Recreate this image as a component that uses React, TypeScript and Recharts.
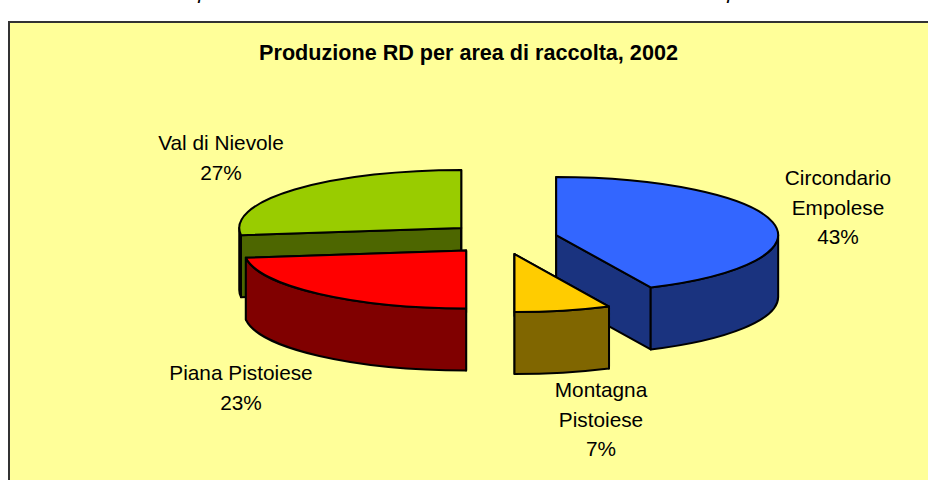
import { PieChart, Pie } from "recharts";

// Production share per collection area. Order puts the back slices first so they paint underneath.
const areas = ["Val di Nievole", "Circondario Empolese", "Montagna Pistoiese", "Piana Pistoiese"];
const shares = [27, 43, 7, 23];
const topColors = ["#99CC00", "#3366FF", "#FFCC00", "#FF0000"];
const sideColors = ["#4D6600", "#1A337F", "#806600", "#800000"];

const data = areas.map((name, i) => ({ name, value: shares[i], fill: topColors[i], side: sideColors[i] }));

// First slice starts so that Circondario begins at 12 o'clock
const START_ANGLE = 90 + (360 * shares[0]) / 100;

const RADIUS = 222;
const SQUASH = 58 / 222; // ellipse ratio of the tilted pie
const DEPTH = 62;
const EXPLODE_X = 55;
const EXPLODE_Y = 16;

const LABEL_POS: Record<string, { x: number; lines: string[]; y: number }> = {
  "Val di Nievole": { x: 221, y: 150, lines: ["Val di Nievole", "27%"] },
  "Circondario Empolese": { x: 838, y: 185, lines: ["Circondario", "Empolese", "43%"] },
  "Montagna Pistoiese": { x: 601, y: 397, lines: ["Montagna", "Pistoiese", "7%"] },
  "Piana Pistoiese": { x: 241, y: 380, lines: ["Piana Pistoiese", "23%"] },
};

const rad = (deg: number) => (deg * Math.PI) / 180;

function Slice3D(props: any) {
  const { startAngle, endAngle, midAngle, fill, payload } = props;
  const cx = props.cx + EXPLODE_X * Math.cos(rad(midAngle));
  const cy = props.cy - EXPLODE_Y * Math.sin(rad(midAngle));
  const ry = RADIUS * SQUASH;
  const pt = (a: number, dz = 0) =>
    `${cx + RADIUS * Math.cos(rad(a))} ${cy - ry * Math.sin(rad(a)) + dz}`;
  const large = (a: number, b: number) => (Math.abs(a - b) > 180 ? 1 : 0);

  const radial = (a: number) =>
    `M${cx} ${cy} L${pt(a)} L${pt(a, DEPTH)} L${cx} ${cy + DEPTH} Z`;

  // outer wall only shows on the front half of the ellipse
  const walls: string[] = [];
  [[-180, 0], [180, 360]].forEach(([lo, hi]) => {
    const a = Math.min(startAngle, hi);
    const b = Math.max(endAngle, lo);
    if (a > b) {
      walls.push(
        `M${pt(a)} A${RADIUS} ${ry} 0 ${large(a, b)} 1 ${pt(b)} L${pt(b, DEPTH)} A${RADIUS} ${ry} 0 ${large(a, b)} 0 ${pt(a, DEPTH)} Z`
      );
    }
  });

  const top = `M${cx} ${cy} L${pt(startAngle)} A${RADIUS} ${ry} 0 ${large(startAngle, endAngle)} 1 ${pt(endAngle)} Z`;
  const side = payload?.side ?? props.side;

  return (
    <g stroke="#000" strokeWidth={2} strokeLinejoin="round">
      <path d={radial(startAngle)} fill={side} />
      <path d={radial(endAngle)} fill={side} />
      {walls.map((d) => (
        <path key={d} d={d} fill={side} />
      ))}
      <path d={top} fill={fill} />
    </g>
  );
}

function renderLabel(props: any) {
  const pos = LABEL_POS[props.name ?? props.payload?.name];
  if (!pos) return null;
  return (
    <text x={pos.x} y={pos.y} textAnchor="middle" fontFamily="Liberation Sans" fontSize={20.8} fill="#000" stroke="none">
      {pos.lines.map((line, i) => (
        <tspan key={line} x={pos.x} dy={i === 0 ? 0 : 29.5}>
          {line}
        </tspan>
      ))}
    </text>
  );
}

export default function App() {
  return (
    <div style={{ position: "absolute", left: 0, top: 0, width: 928, height: 480, overflow: "hidden", background: "#fff" }}>
      <div
        style={{
          position: "absolute",
          left: 8,
          top: 21,
          width: 940,
          height: 480,
          background: "#FFFF99",
          border: "2px solid #333",
        }}
      />
      <div style={{ position: "absolute", left: 0, top: 0 }}>
        <PieChart width={928} height={480} margin={{ top: 0, right: 0, bottom: 0, left: 0 }}>
          <text x={204} y={-1} fontFamily="Liberation Sans" fontStyle="italic" fontSize={21} textAnchor="middle">p</text>
          <text x={733} y={-1} fontFamily="Liberation Sans" fontStyle="italic" fontSize={21} textAnchor="middle">p</text>
          <text x={468.5} y={60} textAnchor="middle" fontFamily="Liberation Sans" fontWeight="bold" fontSize={21.6} fill="#000">
            Produzione RD per area di raccolta, 2002
          </text>
          <Pie
            data={data}
            dataKey="value"
            nameKey="name"
            cx={502.5}
            cy={238.5}
            outerRadius={RADIUS}
            startAngle={START_ANGLE}
            endAngle={START_ANGLE - 360}
            shape={(p: any) => <Slice3D {...p} />}
            label={renderLabel}
            labelLine={false}
            isAnimationActive={false}
          />
        </PieChart>
      </div>
    </div>
  );
}
